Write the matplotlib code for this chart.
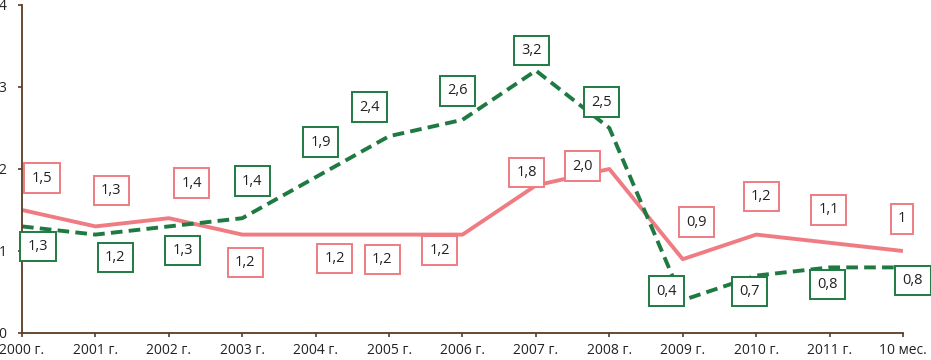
import matplotlib.pyplot as plt

categories = ['2000 г.', '2001 г.', '2002 г.', '2003 г.', '2004 г.', '2005 г.', '2006 г.',
              '2007 г.', '2008 г.', '2009 г.', '2010 г.', '2011 г.', '10 мес.']
pink_values = [1.5, 1.3, 1.4, 1.2, 1.2, 1.2, 1.2, 1.8, 2.0, 0.9, 1.2, 1.1, 1.0]
pink_labels = ['1,5', '1,3', '1,4', '1,2', '1,2', '1,2', '1,2', '1,8', '2,0', '0,9', '1,2', '1,1', '1']
green_values = [1.3, 1.2, 1.3, 1.4, 1.9, 2.4, 2.6, 3.2, 2.5, 0.4, 0.7, 0.8, 0.8]
green_labels = ['1,3', '1,2', '1,3', '1,4', '1,9', '2,4', '2,6', '3,2', '2,5', '0,4', '0,7', '0,8', '0,8']

# label offsets from their points, in pixels (x right, y up)
pink_offsets = [(20, 32), (16, 36), (23, 35), (3, -28), (19, -24), (-7, -25), (-23, -16),
                (-9, 13), (-27, 3), (14, 37), (5, 38), (-1, 33), (-1, 32)]
green_offsets = [(16, -20), (20, -23), (14, -24), (10, 37), (5, 35), (-20, 29), (-5, 29),
                 (-4, 20), (-8, 26), (-16, 9), (-7, -16), (-2, -17), (10, -13)]

PINK = '#EF7C82'
GREEN = '#1F7A42'
BROWN = '#5C3B22'

plt.rcParams['font.family'] = ['Open Sans', 'DejaVu Sans']

fig = plt.figure(figsize=(9.31, 3.6), dpi=100)
ax = fig.add_axes([22 / 931, 27 / 360, 881 / 931, 328 / 360])

x = list(range(len(categories)))
ax.plot(x, pink_values, color=PINK, linewidth=2.8, solid_capstyle='butt', zorder=2)
ax.plot(x, green_values, color=GREEN, linewidth=2.8, linestyle=(0, (3, 1.6)), zorder=2)

box_kw = dict(boxstyle='square,pad=0.5', facecolor='white', linewidth=1.4)

for xi, v, lab, off in zip(x, pink_values, pink_labels, pink_offsets):
    ax.annotate(lab, (xi, v), xytext=off, textcoords='offset pixels', ha='center', va='center',
                fontsize=10.5, color='#222222', zorder=3, annotation_clip=False,
                bbox=dict(box_kw, edgecolor=PINK))

for xi, v, lab, off in zip(x, green_values, green_labels, green_offsets):
    ax.annotate(lab, (xi, v), xytext=off, textcoords='offset pixels', ha='center', va='center',
                fontsize=10.5, color='#222222', zorder=3, annotation_clip=False,
                bbox=dict(box_kw, edgecolor=GREEN))

ax.set_xlim(0, len(categories) - 1)
ax.set_ylim(0, 4)
ax.set_xticks(x)
ax.set_xticklabels(categories)
ax.set_yticks([0, 1, 2, 3, 4])
ax.spines['top'].set_visible(False)
ax.spines['right'].set_visible(False)
for side in ['left', 'bottom']:
    ax.spines[side].set_color(BROWN)
    ax.spines[side].set_linewidth(1.3)
ax.tick_params(axis='both', colors=BROWN, labelcolor='#222222', labelsize=10, length=3, width=1.2)
ax.tick_params(axis='y', pad=8)
ax.tick_params(axis='x', pad=4)

fig.savefig('out.png', dpi=100)
